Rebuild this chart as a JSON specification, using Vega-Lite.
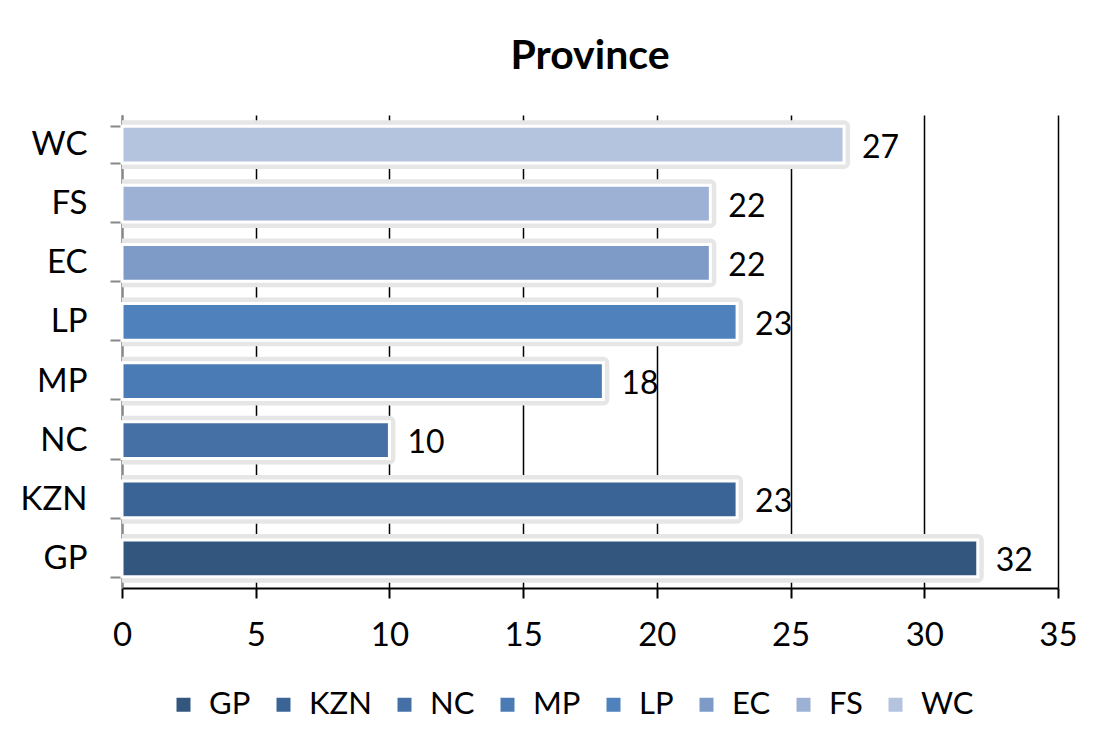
{
  "$schema": "https://vega.github.io/schema/vega-lite/v6.json",
  "autosize": "none",
  "width": 936,
  "height": 473,
  "padding": {"left": 122, "top": 115, "right": 41, "bottom": 161},
  "background": "white",
  "config": {
    "font": "Lato",
    "view": {"stroke": null},
    "title": {"font": "Lato", "fontSize": 41, "fontWeight": "bold", "color": "black"},
    "axis": {"labelFont": "Lato", "titleFont": "Lato"},
    "legend": {"labelFont": "Lato"}
  },
  "title": {"text": "Province", "anchor": "middle", "offset": 21},
  "data": {
    "values": [
      {"province": "GP", "value": 32},
      {"province": "KZN", "value": 23},
      {"province": "NC", "value": 10},
      {"province": "MP", "value": 18},
      {"province": "LP", "value": 23},
      {"province": "EC", "value": 22},
      {"province": "FS", "value": 22},
      {"province": "WC", "value": 27}
    ]
  },
  "encoding": {
    "y": {
      "field": "province",
      "type": "nominal",
      "sort": ["WC", "FS", "EC", "LP", "MP", "NC", "KZN", "GP"],
      "scale": {"paddingInner": 0.38, "paddingOuter": 0.19},
      "axis": {
        "title": null,
        "domainColor": "#888888",
        "domainWidth": 2,
        "tickColor": "#888888",
        "tickWidth": 2,
        "tickSize": 12,
        "tickBand": "extent",
        "labelFontSize": 33,
        "labelColor": "black",
        "labelPadding": 23
      }
    },
    "x": {
      "field": "value",
      "type": "quantitative",
      "scale": {"domain": [0, 35], "nice": false},
      "axis": {
        "title": null,
        "values": [0, 5, 10, 15, 20, 25, 30, 35],
        "grid": true,
        "gridColor": "black",
        "gridWidth": 1.5,
        "gridOpacity": 1,
        "domainColor": "black",
        "domainWidth": 2,
        "tickColor": "black",
        "tickWidth": 2,
        "tickSize": 10,
        "labelFontSize": 33,
        "labelColor": "black",
        "labelPadding": 21,
        "labelFlush": false
      }
    }
  },
  "layer": [
    {
      "mark": {"type": "bar", "color": "#e6e6e6", "stroke": "#e6e6e6", "strokeWidth": 12, "strokeJoin": "round", "clip": true},
      "encoding": {}
    },
    {
      "mark": {"type": "bar", "stroke": "white", "strokeWidth": 3},
      "encoding": {
        "color": {
          "field": "province",
          "type": "nominal",
          "sort": ["GP", "KZN", "NC", "MP", "LP", "EC", "FS", "WC"],
          "scale": {
            "domain": ["GP", "KZN", "NC", "MP", "LP", "EC", "FS", "WC"],
            "range": ["#33567f", "#3b6496", "#4470a5", "#4a7bb5", "#4f81bd", "#7e9bc8", "#9db1d5", "#b4c3de"]
          },
          "legend": {
            "title": null,
            "orient": "none",
            "legendX": 46,
            "legendY": 574,
            "direction": "horizontal",
            "columns": 8,
            "symbolType": "square",
            "symbolSize": 196,
            "symbolStrokeWidth": 0,
            "labelFontSize": 31,
            "labelColor": "black",
            "columnPadding": 17,
            "labelOffset": 10
          }
        }
      }
    },
    {
      "mark": {"type": "text", "align": "left", "baseline": "middle", "dx": 18, "dy": 3, "fontSize": 32, "color": "black"},
      "encoding": {"text": {"field": "value", "type": "quantitative"}}
    }
  ]
}
